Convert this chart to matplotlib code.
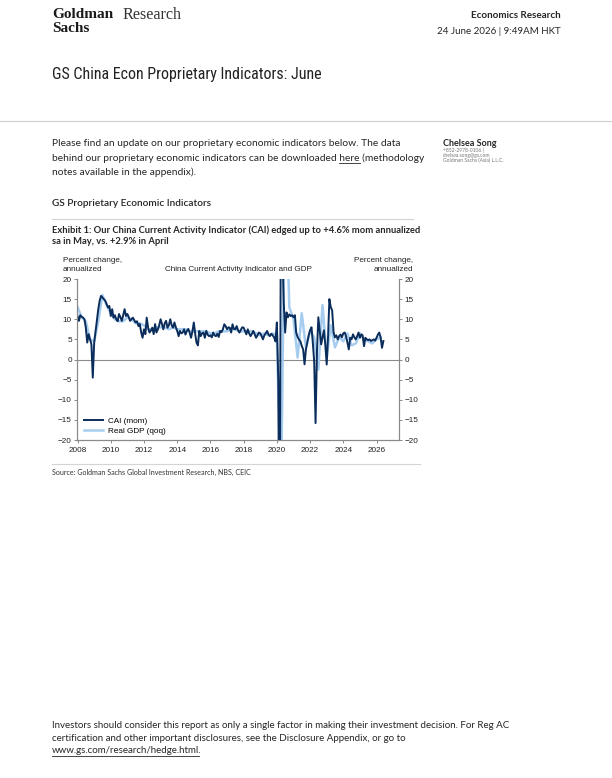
import matplotlib

matplotlib.use("Agg")
import matplotlib.dates as mdates
import matplotlib.pyplot as plt
import pandas as pd
from matplotlib import font_manager as fm
from matplotlib.lines import Line2D

W, H = 612, 778
BODY = ["Lato", "DejaVu Sans"]
CHART = ["Liberation Sans", "DejaVu Sans"]

# CAI, % mom annualized, month-end values from Dec 2007 to May 2026
cai_start = "2007-12"
cai_mom = [
    10.8,
    9.6, 11.0, 10.6, 10.4, 10.0, 7.9, 4.2, 6.3, 5.0, 3.8, -4.5, 4.2,            # 2008
    7.0, 9.6, 12.5, 14.6, 15.8, 15.4, 15.0, 14.6, 13.8, 12.9, 13.3, 10.8,      # 2009
    12.5, 10.4, 11.0, 10.0, 9.5, 11.3, 10.5, 9.6, 11.0, 12.5, 10.8, 11.3,      # 2010
    10.5, 9.6, 10.0, 10.4, 9.8, 9.2, 9.5, 8.3, 8.8, 6.7, 5.4, 7.5,             # 2011
    6.3, 10.4, 7.9, 6.7, 7.2, 7.9, 6.3, 8.8, 6.7, 7.5, 8.5, 10.0,              # 2012
    8.75, 7.5, 9.0, 9.6, 7.9, 8.5, 10.0, 8.5, 7.9, 9.2, 8.0, 7.1,              # 2013
    5.8, 7.1, 6.5, 6.7, 7.5, 6.2, 7.1, 7.6, 6.7, 5.4, 7.0, 9.2,                # 2014
    6.3, 4.2, 3.5, 7.1, 5.8, 6.5, 6.7, 5.4, 7.1, 6.2, 5.8, 6.0,                # 2015
    5.5, 6.7, 6.0, 5.8, 6.4, 5.6, 7.1, 6.8, 7.5, 8.75, 8.3, 7.5,               # 2016
    8.0, 7.9, 6.7, 8.75, 7.6, 7.5, 8.3, 7.2, 6.7, 7.4, 8.0, 7.9,               # 2017
    7.0, 6.25, 7.5, 6.5, 5.8, 6.4, 7.1, 6.2, 5.4, 6.0, 6.7, 6.5,               # 2018
    5.8, 5.0, 6.0, 6.5, 7.1, 6.2, 5.8, 6.4, 6.0, 5.5, 4.5, 9.2,                # 2019
    -5.0, -60.0, 50.0, 28.0, 14.0, 6.7, 11.7, 10.5, 11.2, 10.8, 11.0, 10.5,    # 2020
    11.0, 6.7, 5.6, 5.0, 4.5, 3.4, 2.5, -1.2, 2.5, 4.3, 6.0, 7.3,              # 2021
    8.0, 4.3, -0.5, -15.8, 2.0, 10.5, 7.0, 3.75, 5.5, 7.25, 3.75, -1.25,       # 2022
    6.0, 15.0, 13.0, 12.2, 6.8, 5.5, 6.0, 5.0, 5.8, 6.2, 5.5, 6.5,             # 2023
    6.7, 5.8, 4.2, 2.5, 5.4, 5.0, 6.25, 5.5, 5.0, 5.8, 6.7, 5.4,               # 2024
    6.25, 6.0, 3.3, 5.4, 5.0, 4.8, 5.0, 4.6, 4.8, 5.0, 4.7, 5.4,               # 2025
    6.2, 6.7, 5.5, 2.9, 4.6,                                                   # 2026
]

# Real GDP, % qoq annualized, quarter-end values from 2007Q4 to 2026Q1
gdp_start = "2007Q4"
gdp_qoq = [
    13.0,
    10.5, 9.5, 5.0, 4.5,      # 2008
    9.5, 16.0, 13.5, 11.5,    # 2009
    10.0, 9.5, 9.5, 10.5,     # 2010
    10.0, 9.0, 9.0, 8.5,      # 2011
    7.5, 7.5, 8.0, 8.0,       # 2012
    8.0, 7.5, 8.0, 7.5,       # 2013
    7.5, 7.5, 7.0, 7.0,       # 2014
    7.0, 7.0, 7.0, 6.5,       # 2015
    6.5, 7.0, 7.0, 7.0,       # 2016
    7.5, 7.5, 7.0, 7.0,       # 2017
    7.0, 7.0, 6.5, 6.0,       # 2018
    6.5, 6.0, 6.5, 6.0,       # 2019
    -35.0, 50.0, 13.0, 10.0,  # 2020
    0.5, 11.5, 3.0, 7.0,      # 2021
    5.5, -2.5, 13.5, 0.5,     # 2022
    8.5, 3.0, 5.5, 4.5,       # 2023
    6.5, 3.5, 4.0, 6.5,       # 2024
    5.0, 4.5, 4.0, 5.0,       # 2025
    5.5,                      # 2026
]

year_ticks = list(range(2008, 2027, 2))
value_ticks = [20, 15, 10, 5, 0, -5, -10, -15, -20]
series_labels = ["CAI (mom)", "Real GDP (qoq)"]

DARK = "#0b2d5b"
LIGHT = "#a6cdef"
AXIS_GREY = "#8a8a8a"


def fx(x):
    return x / W


def fy(y):
    return 1 - y / H


def narrow_font():
    # the title is set in a condensed face; use whatever condensed face is installed
    names = {f.name for f in fm.fontManager.ttflist}
    for cand in ["Liberation Sans Narrow", "Roboto Condensed", "Open Sans Condensed",
                 "Noto Sans Condensed", "DejaVu Sans Condensed", "Arial Narrow"]:
        if cand in names:
            return cand, "normal"
    for f in fm.fontManager.ttflist:
        if f.name in ("Noto Sans", "Open Sans", "Roboto", "DejaVu Sans") and \
                f.stretch in ("condensed", "semi-condensed", "extra-condensed"):
            return f.name, f.stretch
    return "Liberation Sans", "normal"


def put(fig, x, y, s, size, weight="normal", family=BODY, color="#262626", ha="left", **kw):
    return fig.text(fx(x), fy(y), s, fontsize=size, fontweight=weight, family=family,
                    color=color, ha=ha, va="center", **kw)


def put_fit(fig, x, y, s, size, width, **kw):
    # shrink the font until the string is `width` px wide
    t = put(fig, x, y, s, size, **kw)
    w = t.get_window_extent(fig.canvas.get_renderer()).width
    if w > width:
        t.set_fontsize(size * width / w)
    return t


def hline(fig, x1, x2, y, color="#d4d4d4", lw=0.8):
    fig.add_artist(Line2D([fx(x1), fx(x2)], [fy(y), fy(y)], color=color, lw=lw,
                          transform=fig.transFigure))


def underline(fig, x, y, prefix, word, size, offset=5.0):
    # measure where `word` ends up when written after `prefix`
    rend = fig.canvas.get_renderer()
    t1 = put(fig, x, y, prefix + word, size)
    t2 = put(fig, x, y, word, size)
    x_end = t1.get_window_extent(rend).x1
    w = t2.get_window_extent(rend).width
    t1.remove()
    t2.remove()
    fig.add_artist(Line2D([fx(x_end - w), fx(x_end)], [fy(y + offset)] * 2, color="#262626",
                          lw=0.6, transform=fig.transFigure))


def draw_page(fig):
    # header
    serif = ["Liberation Serif", "DejaVu Serif"]
    put(fig, 52, 15, "Goldman", 11, weight="bold", family=serif, color="#1a1a1a")
    put(fig, 52, 28, "Sachs", 11, weight="bold", family=serif, color="#1a1a1a")
    put(fig, 122, 15, "Research", 11.6, family=serif, color="#333333")
    put(fig, 561, 15, "Economics Research", 7.1, weight="bold", ha="right")
    put(fig, 561, 32, "24 June 2026 | 9:49AM HKT", 7.05, ha="right")
    fam, stretch = narrow_font()
    put_fit(fig, 52, 74, "GS China Econ Proprietary Indicators: June", 12.5, 271,
            family=[fam, "DejaVu Sans"], fontstretch=stretch, color="#222222")
    hline(fig, 0, W, 121, color="#cfcfcf")

    # intro paragraph
    para = [
        "Please find an update on our proprietary economic indicators below. The data",
        "behind our proprietary economic indicators can be downloaded here (methodology",
        "notes available in the appendix).",
    ]
    for i, line in enumerate(para):
        put(fig, 52, 144 + 14.2 * i, line, 7.4)
    underline(fig, 52, 144 + 14.2, "behind our proprietary economic indicators can be downloaded ",
              "here", 7.4)

    # author block
    put(fig, 443, 143, "Chelsea Song", 6.5, weight="bold")
    put(fig, 443, 150.5, "+852-2978-0106 |", 3.6, color="#777777")
    put(fig, 443, 155.5, "chelsea.song@gs.com", 3.6, color="#777777")
    put(fig, 443, 160, "Goldman Sachs (Asia) L.L.C.", 3.6, color="#777777")

    # exhibit header
    put(fig, 52, 204, "GS Proprietary Economic Indicators", 7.3, weight="semibold")
    hline(fig, 52, 413, 219)
    put(fig, 52, 230, "Exhibit 1: Our China Current Activity Indicator (CAI) edged up to +4.6% mom annualized",
        6.75, weight="bold")
    put(fig, 52, 241.5, "sa in May, vs. +2.9% in April", 6.75, weight="bold")

    # source
    hline(fig, 52, 420, 464)
    put(fig, 52, 472, "Source: Goldman Sachs Global Investment Research, NBS, CEIC", 5.1, color="#333333")

    # footer
    foot = [
        "Investors should consider this report as only a single factor in making their investment decision. For Reg AC",
        "certification and other important disclosures, see the Disclosure Appendix, or go to",
        "www.gs.com/research/hedge.html.",
    ]
    for i, line in enumerate(foot):
        put(fig, 52, 725.5 + 12.7 * i, line, 7.05)
    underline(fig, 52, 725.5 + 25.4, "", "www.gs.com/research/hedge.html", 7.05, offset=4.8)


def draw_chart(fig):
    left, right, top, bottom = 77, 399, 279, 440
    ax = fig.add_axes([fx(left), fy(bottom), (right - left) / W, (bottom - top) / H])

    cai_dates = pd.period_range(cai_start, periods=len(cai_mom), freq="M").to_timestamp(how="end")
    gdp_dates = pd.period_range(gdp_start, periods=len(gdp_qoq), freq="Q").to_timestamp(how="end")

    ax.axhline(0, color=AXIS_GREY, lw=0.8, zorder=1)
    ax.plot(gdp_dates, gdp_qoq, color=LIGHT, lw=1.8, zorder=2, label=series_labels[1])
    ax.plot(cai_dates, cai_mom, color=DARK, lw=1.4, zorder=3, label=series_labels[0])

    ax.set_xlim(pd.Timestamp("2007-12-20"), pd.Timestamp("2027-05-10"))
    ax.set_ylim(-20, 20)
    ax.set_xticks([pd.Timestamp(f"{y}-01-01") for y in year_ticks])
    ax.xaxis.set_major_formatter(mdates.DateFormatter("%Y"))
    ax.set_yticks(value_ticks)

    ax2 = ax.twinx()
    ax2.set_ylim(-20, 20)
    ax2.set_yticks(value_ticks)

    for a in (ax, ax2):
        a.spines["top"].set_visible(False)
        for side in ("left", "right", "bottom"):
            a.spines[side].set_color(AXIS_GREY)
            a.spines[side].set_linewidth(0.8)
        a.tick_params(direction="out", length=2.2, width=0.7, color=AXIS_GREY,
                      labelsize=5.9, labelcolor="#222222", pad=1.5)
        for lab in a.get_xticklabels() + a.get_yticklabels():
            lab.set_family(CHART)
    ax.tick_params(axis="x", pad=2.5)

    handles, labels = ax.get_legend_handles_labels()
    ax.legend(handles[::-1], labels[::-1], loc="lower left", bbox_to_anchor=(0.022, 0.03),
              frameon=False, handlelength=2.3, handletextpad=0.6,
              labelspacing=0.35, borderpad=0, borderaxespad=0,
              prop={"family": CHART, "size": 5.9})

    # chart labels above the plot
    put(fig, 63, 261, "Percent change,", 5.9, family=CHART, color="#222222")
    put(fig, 63, 269.5, "annualized", 5.9, family=CHART, color="#222222")
    put(fig, 413, 261, "Percent change,", 5.9, family=CHART, color="#222222", ha="right")
    put(fig, 413, 269.5, "annualized", 5.9, family=CHART, color="#222222", ha="right")
    put(fig, 238, 269.5, "China Current Activity Indicator and GDP", 5.9, family=CHART,
        color="#222222", ha="center")
    return ax


def main() -> None:
    fig = plt.figure(figsize=(W / 100, H / 100), dpi=100)
    fig.patch.set_facecolor("white")
    draw_chart(fig)
    draw_page(fig)
    fig.savefig("out.png", dpi=100)
    plt.close(fig)


if __name__ == "__main__":
    main()
